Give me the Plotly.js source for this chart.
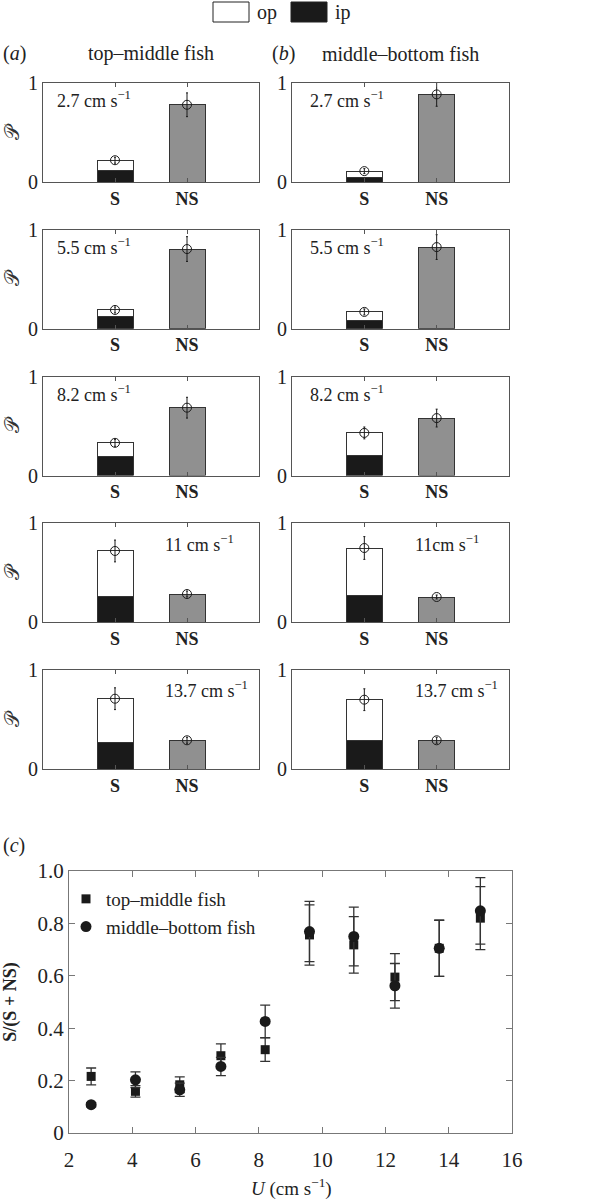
<!DOCTYPE html>
<html>
<head>
<meta charset="utf-8">
<script src="https://cdn.plot.ly/plotly-3.0.1.min.js"></script>
<style>html, body { margin: 0; padding: 0; background: #fff; }</style>
</head>
<body>
<div id="chart" style="width:608px;height:1203px"></div>
<script>
// ---------- Data: panels (a) and (b) ---------- //
const categories = ['S', 'NS'];
const speedTextA = ['2.7 cm s<sup>−1</sup>', '5.5 cm s<sup>−1</sup>', '8.2 cm s<sup>−1</sup>', '11 cm s<sup>−1</sup>', '13.7 cm s<sup>−1</sup>'];
const speedTextB = ['2.7 cm s<sup>−1</sup>', '5.5 cm s<sup>−1</sup>', '8.2 cm s<sup>−1</sup>', '11cm s<sup>−1</sup>', '13.7 cm s<sup>−1</sup>'];

// top-middle fish
const tmS = [0.22, 0.19, 0.33, 0.72, 0.71];
const tmIp = [0.12, 0.125, 0.19, 0.26, 0.265];
const tmNS = [0.78, 0.805, 0.685, 0.285, 0.29];
const tmSErr = [0.03, 0.03, 0.035, 0.11, 0.11];
const tmNSErr = [0.12, 0.125, 0.105, 0.03, 0.03];

// middle-bottom fish
const mbS = [0.11, 0.17, 0.43, 0.75, 0.70];
const mbIp = [0.045, 0.085, 0.205, 0.275, 0.29];
const mbNS = [0.885, 0.825, 0.58, 0.255, 0.29];
const mbSErr = [0.025, 0.03, 0.06, 0.115, 0.11];
const mbNSErr = [0.12, 0.125, 0.09, 0.02, 0.03];

// ---------- Data: panel (c) ---------- //
const U = [2.7, 4.1, 5.5, 6.8, 8.2, 9.6, 11, 12.3, 13.7, 15];
const tmRatio = [0.216, 0.159, 0.184, 0.295, 0.318, 0.756, 0.718, 0.595, 0.705, 0.82];
const tmRatioErr = [0.032, 0.022, 0.03, 0.045, 0.045, 0.115, 0.108, 0.09, 0.107, 0.12];
const mbRatio = [0.108, 0.203, 0.165, 0.254, 0.426, 0.769, 0.75, 0.562, 0.705, 0.848];
const mbRatioErr = [0.008, 0.03, 0.025, 0.035, 0.062, 0.115, 0.112, 0.085, 0.107, 0.127];
const yTicks = [0, 0.2, 0.4, 0.6, 0.8, 1.0];
const yTickText = ['0', '0.2', '0.4', '0.6', '0.8', '1.0'];

// ---------- Page geometry ---------- //
const W = 608, H = 1203;
const px = v => v / W;
const py = v => 1 - v / H;
const FONT = 'Liberation Serif, Times New Roman, serif';
const INK = '#222';
const FRAME = '#555';

const cols = [
    { x: [43, 259], S: tmS, ip: tmIp, NS: tmNS, sErr: tmSErr, nsErr: tmNSErr, text: speedTextA, tx: [0.056, 0.556] },
    { x: [292, 509], S: mbS, ip: mbIp, NS: mbNS, sErr: mbSErr, nsErr: mbNSErr, text: speedTextB, tx: [0.074, 0.558] },
];
const rowTop0 = 83, rowStep = 146.75, rowH = 99;

const traces = [];
const layout = {
    width: W,
    height: H,
    margin: { l: 0, r: 0, t: 0, b: 0 },
    paper_bgcolor: '#fff',
    plot_bgcolor: '#fff',
    barmode: 'stack',
    font: { family: FONT, color: INK },
    showlegend: true,
    annotations: [],
    shapes: [],
};

cols.forEach((col, c) => {
    for (let r = 0; r < 5; r++) {
        const n = c * 5 + r + 1;
        const sfx = n === 1 ? '' : n;
        const xa = 'x' + sfx, ya = 'y' + sfx;
        const top = rowTop0 + r * rowStep;
        const common = { xaxis: xa, yaxis: ya, showlegend: false, hoverinfo: 'skip' };

        // ip (black) part of S, op (white) on top of it, NS grey
        traces.push({ ...common, type: 'bar', x: ['S'], y: [col.ip[r]], width: 0.5,
            marker: { color: '#1a1a1a', line: { color: '#333', width: 1 } } });
        traces.push({ ...common, type: 'bar', x: ['S'], y: [col.S[r] - col.ip[r]], width: 0.5,
            marker: { color: '#fff', line: { color: '#333', width: 1 } } });
        traces.push({ ...common, type: 'bar', x: ['NS'], y: [col.NS[r]], width: 0.5,
            marker: { color: '#909090', line: { color: '#333', width: 1 } } });
        // open circle + error bar
        traces.push({ ...common, type: 'scatter', mode: 'markers', x: categories, y: [col.S[r], col.NS[r]],
            marker: { symbol: 'circle-open', size: 9, color: '#1a1a1a', line: { width: 1 } },
            error_y: { type: 'data', array: [col.sErr[r], col.nsErr[r]], thickness: 1, width: 1, color: '#1a1a1a' } });

        layout['xaxis' + sfx] = {
            domain: [px(col.x[0]), px(col.x[1])],
            anchor: ya,
            type: 'category',
            categoryorder: 'array',
            categoryarray: categories,
            range: [-1, 2],
            showline: true, mirror: 'ticks', linecolor: FRAME, linewidth: 1,
            ticks: 'inside', ticklen: 4, tickcolor: FRAME,
            tickfont: { family: FONT, size: 18, color: INK, weight: 'bold' },
            showgrid: false, zeroline: false, fixedrange: true,
        };
        layout['yaxis' + sfx] = {
            domain: [py(top + rowH), py(top)],
            anchor: xa,
            range: [0, 1],
            tickvals: [0, 1],
            ticktext: ['0', '1'],
            showline: true, mirror: 'ticks', linecolor: FRAME, linewidth: 1,
            ticks: 'inside', ticklen: 4, tickcolor: FRAME,
            tickfont: { family: FONT, size: 20, color: INK },
            showgrid: false, zeroline: false, fixedrange: true,
            title: c === 0 ? { text: '𝒫', font: { family: 'DejaVu Serif, DejaVu Sans, serif', size: 20, color: '#333' }, standoff: 8 } : undefined,
        };

        layout.annotations.push({
            xref: xa + ' domain', yref: ya + ' domain',
            x: r < 3 ? col.tx[0] : col.tx[1], y: r < 3 ? 0.83 : 0.80,
            xanchor: 'left', yanchor: 'middle', showarrow: false,
            text: col.text[r], font: { family: FONT, size: 18, color: INK },
        });
    }
});

// ---------- Panel (c) ---------- //
traces.push({
    type: 'scatter', mode: 'markers', name: 'top–middle fish', xaxis: 'x11', yaxis: 'y11',
    x: U, y: tmRatio,
    marker: { symbol: 'square', size: 9, color: '#1a1a1a' },
    error_y: { type: 'data', array: tmRatioErr, thickness: 1.3, width: 5, color: '#333' },
});
traces.push({
    type: 'scatter', mode: 'markers', name: 'middle–bottom fish', xaxis: 'x11', yaxis: 'y11',
    x: U, y: mbRatio,
    marker: { symbol: 'circle', size: 11, color: '#1a1a1a' },
    error_y: { type: 'data', array: mbRatioErr, thickness: 1.3, width: 5, color: '#333' },
});

layout.xaxis11 = {
    domain: [px(69), px(512)], anchor: 'y11',
    range: [2, 16], dtick: 2, tick0: 2,
    showline: true, mirror: 'ticks', linecolor: '#777', linewidth: 1,
    ticks: 'inside', ticklen: 6, tickcolor: '#777',
    tickfont: { family: FONT, size: 21, color: INK }, ticklabelstandoff: 8,
    showgrid: false, zeroline: false, fixedrange: true,
};
layout.yaxis11 = {
    domain: [py(1133), py(871)], anchor: 'x11',
    range: [0, 1], tickvals: yTicks, ticktext: yTickText,
    showline: true, mirror: 'ticks', linecolor: '#777', linewidth: 1,
    ticks: 'inside', ticklen: 6, tickcolor: '#777',
    tickfont: { family: FONT, size: 21, color: INK },
    showgrid: false, zeroline: false, fixedrange: true,
    title: { text: '<b>S/(S + NS)</b>', font: { family: FONT, size: 18, color: INK }, standoff: 16 },
};
layout.legend = {
    x: px(66), y: py(880), xanchor: 'left', yanchor: 'top',
    traceorder: 'normal',
    bgcolor: 'rgba(0,0,0,0)', borderwidth: 0,
    font: { family: FONT, size: 19, color: INK },
    itemclick: false, itemdoubleclick: false,
};

// ---------- Titles and top key ---------- //
const heads = [
    { text: '(<i>a</i>)', x: 1, y: 54, anchor: 'left', size: 20 },
    { text: 'top–middle fish', x: 151, y: 54, anchor: 'center', size: 20 },
    { text: '(<i>b</i>)', x: 270, y: 54, anchor: 'left', size: 20 },
    { text: 'middle–bottom fish', x: 400, y: 54, anchor: 'center', size: 20 },
    { text: '(<i>c</i>)', x: 1, y: 845, anchor: 'left', size: 20 },
    { text: 'op', x: 255, y: 12, anchor: 'left', size: 20 },
    { text: 'ip', x: 333, y: 12, anchor: 'left', size: 20 },
    { text: '<i>U</i> (cm s<sup>−1</sup>)', x: 291, y: 1187, anchor: 'center', size: 19 },
];
heads.forEach(h => layout.annotations.push({
    xref: 'paper', yref: 'paper', x: px(h.x), y: py(h.y),
    xanchor: h.anchor, yanchor: 'middle', showarrow: false,
    text: h.text, font: { family: FONT, size: h.size, color: INK },
}));
layout.shapes.push(
    { type: 'rect', xref: 'paper', yref: 'paper', x0: px(213), x1: px(249), y0: py(22), y1: py(2),
      fillcolor: '#fff', line: { color: '#222', width: 1 } },
    { type: 'rect', xref: 'paper', yref: 'paper', x0: px(291), x1: px(327), y0: py(22), y1: py(2),
      fillcolor: '#1a1a1a', line: { color: '#222', width: 1 } }
);

Plotly.newPlot('chart', traces, layout, { displayModeBar: false, staticPlot: true });
</script>
</body>
</html>
